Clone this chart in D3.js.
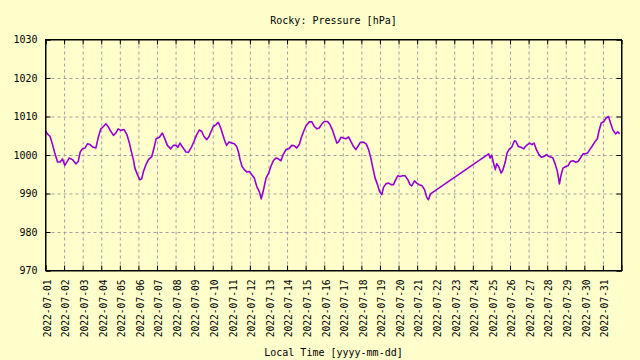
<!DOCTYPE html>
<html>
<head>
<meta charset="utf-8">
<script src="https://cdn.jsdelivr.net/npm/d3@7"></script>
<style>
  html, body { margin: 0; padding: 0; background: #ffffcc; }
  svg { display: block; }
  text { font-family: "DejaVu Sans Mono", "Liberation Mono", monospace; fill: #000; }
</style>
</head>
<body>
<script>
// ---- data ----
const titleText = "Rocky: Pressure [hPa]";
const xLabelText = "Local Time [yyyy-mm-dd]";
const startDate = "2022-07-01";
const endDate = "2022-08-01";
const yTicks = [970, 980, 990, 1000, 1010, 1020, 1030];
// time as fractional days since 2022-07-01 00:00
const dayOffsets = [
  0, 0.1, 0.25, 0.38, 0.5, 0.65, 0.79, 0.91, 1.04, 1.15, 1.27, 1.45, 1.63, 1.76, 1.87, 1.99,
  2.12, 2.26, 2.4, 2.53, 2.71, 2.83, 2.98, 3.12, 3.25, 3.37, 3.52, 3.66, 3.78, 3.91, 4.05, 4.23,
  4.38, 4.5, 4.62, 4.73, 4.81, 4.95, 5.07, 5.18, 5.27, 5.41, 5.54, 5.72, 5.84, 5.95, 6.13, 6.29,
  6.44, 6.56, 6.74, 6.88, 7.03, 7.12, 7.24, 7.38, 7.56, 7.69, 7.87, 7.99, 8.14, 8.28, 8.41, 8.53,
  8.68, 8.8, 8.91, 9.03, 9.18, 9.3, 9.43, 9.54, 9.66, 9.75, 9.88, 10.02, 10.16, 10.29, 10.4, 10.47,
  10.58, 10.7, 10.83, 10.97, 11.1, 11.24, 11.37, 11.51, 11.61, 11.72, 11.87, 12.01, 12.13, 12.26, 12.4, 12.53,
  12.67, 12.79, 12.94, 13.09, 13.26, 13.39, 13.52, 13.66, 13.76, 13.89, 14.02, 14.2, 14.34, 14.47, 14.61, 14.73,
  14.88, 15.0, 15.18, 15.31, 15.45, 15.56, 15.68, 15.77, 15.9, 16.04, 16.17, 16.31, 16.44, 16.58, 16.7, 16.81,
  16.94, 17.12, 17.26, 17.39, 17.51, 17.62, 17.74, 17.87, 17.98, 18.1, 18.19, 18.32, 18.46, 18.6, 18.73, 18.85,
  18.96, 19.09, 19.22, 19.35, 19.5, 19.62, 19.71, 19.86, 19.98, 20.11, 20.25, 20.4, 20.52, 20.61, 20.72,
  23.85, 23.93, 24.02, 24.11, 24.21, 24.28, 24.39, 24.52, 24.6, 24.73, 24.84, 24.97, 25.09, 25.24, 25.32, 25.45,
  25.59, 25.74, 25.83, 25.94, 26.06, 26.18, 26.29, 26.42, 26.56, 26.69, 26.82, 26.96, 27.1, 27.23, 27.31, 27.44,
  27.55, 27.66, 27.73, 27.85, 28.0, 28.12, 28.25, 28.39, 28.54, 28.66, 28.79, 28.93, 29.06, 29.17, 29.29, 29.41,
  29.55, 29.7, 29.78, 29.91, 30.05, 30.17, 30.3, 30.41, 30.53, 30.68, 30.8, 30.9
];
const pressure = [
  1006.3, 1005.5, 1004.8, 1002.7, 1000.5, 998.2, 998.2, 999.0, 997.3, 998.2, 999.2, 998.8, 997.7, 998.3, 1000.8, 1001.6,
  1001.8, 1002.9, 1002.7, 1002.1, 1001.8, 1004.4, 1006.8, 1007.4, 1008.1, 1007.4, 1006.1, 1005.1, 1005.7, 1006.8, 1006.4, 1006.6,
  1005.3, 1003.4, 1000.9, 998.8, 996.6, 994.9, 993.6, 993.8, 995.7, 997.5, 998.8, 999.6, 1001.8, 1004.2, 1004.6, 1005.7,
  1004.0, 1002.5, 1001.6, 1002.5, 1002.5, 1002.0, 1003.1, 1002.0, 1000.8, 1000.7, 1002.2, 1003.5, 1005.3, 1006.5, 1006.1, 1004.8,
  1004.0, 1004.8, 1006.1, 1007.4, 1007.9, 1008.5, 1007.0, 1005.3, 1003.5, 1002.5, 1003.4, 1003.1, 1002.9, 1002.2, 1000.5, 998.8,
  997.0, 996.2, 995.6, 995.7, 994.9, 994.0, 991.8, 990.5, 988.6, 990.7, 994.0, 995.3, 997.0, 998.5, 999.2, 999.0,
  998.5, 1000.1, 1001.4, 1001.6, 1002.5, 1002.4, 1001.8, 1002.7, 1004.4, 1006.1, 1007.6, 1008.6, 1008.6, 1007.4, 1006.8, 1007.0,
  1008.1, 1008.7, 1008.7, 1007.9, 1006.4, 1004.8, 1003.1, 1003.4, 1004.6, 1004.4, 1004.2, 1004.7, 1003.5, 1002.2, 1001.4, 1002.2,
  1003.3, 1003.3, 1002.9, 1001.4, 999.2, 996.6, 994.0, 992.3, 990.5, 989.7, 991.6, 992.5, 992.7, 992.3, 992.3, 993.6,
  994.6, 994.4, 994.6, 994.6, 993.6, 992.3, 992.0, 993.3, 992.7, 992.3, 992.1, 991.0, 989.0, 988.4, 989.9,
  1000.3, 999.2, 999.9, 997.9, 996.2, 997.7, 997.0, 995.3, 995.9, 997.9, 1000.5, 1001.6, 1002.0, 1003.7, 1003.5, 1002.2,
  1002.0, 1001.6, 1002.2, 1002.7, 1003.1, 1002.7, 1003.1, 1001.4, 1000.1, 999.4, 999.6, 1000.1, 999.6, 999.4, 999.2, 997.5,
  995.7, 992.5, 994.4, 996.6, 997.0, 997.2, 998.3, 998.5, 998.1, 998.3, 999.2, 1000.3, 1000.3, 1000.5, 1001.4, 1002.2,
  1003.3, 1004.2, 1006.1, 1008.3, 1008.7, 1009.6, 1010.0, 1008.3, 1006.6, 1005.5, 1006.0, 1005.5
];

// ---- chart ----
const W = 640, H = 360;
const margin = { left: 45.5, right: 18.5, top: 39.5, bottom: 89.5 };
const iw = W - margin.left - margin.right;
const ih = H - margin.top - margin.bottom;

const t0 = new Date(startDate + "T00:00:00Z");
const t1 = new Date(endDate + "T00:00:00Z");
const data = dayOffsets.map((d, i) => ({ t: new Date(t0.getTime() + d * 86400000), v: pressure[i] }));

const x = d3.scaleUtc().domain([t0, t1]).range([0, iw]);
const y = d3.scaleLinear().domain([yTicks[0], yTicks[yTicks.length - 1]]).range([ih, 0]);
const dayTicks = d3.utcDay.range(t0, t1);

const svg = d3.select("body").append("svg").attr("width", W).attr("height", H);
svg.append("rect").attr("width", W).attr("height", H).attr("fill", "#ffffcc");

const g = svg.append("g").attr("transform", `translate(${margin.left},${margin.top})`);

// grid
const gridX = g.append("g").attr("transform", `translate(0,${ih})`)
  .call(d3.axisBottom(x).tickValues(dayTicks.slice(1)).tickSize(-ih).tickFormat(""));
const gridY = g.append("g")
  .call(d3.axisLeft(y).tickValues(yTicks.slice(1, -1)).tickSize(-iw).tickFormat(""));
[gridX, gridY].forEach(a => {
  a.select(".domain").remove();
  a.selectAll("line").attr("stroke", "#a0a0a0").attr("stroke-dasharray", "3,3").attr("stroke-width", 1);
});

// line
g.append("path").datum(data)
  .attr("fill", "none").attr("stroke", "#9400d3").attr("stroke-width", 1.6)
  .attr("stroke-linejoin", "round")
  .attr("d", d3.line().x(d => x(d.t)).y(d => y(d.v)));

// axes (inward ticks)
const ax = [];
ax.push(g.append("g").call(d3.axisLeft(y).tickValues(yTicks).tickSize(-5).tickPadding(8).tickFormat(d3.format("d"))));
ax.push(g.append("g").attr("transform", `translate(${iw},0)`).call(d3.axisRight(y).tickValues(yTicks).tickSize(-5).tickFormat("")));
ax.push(g.append("g").call(d3.axisTop(x).tickValues(dayTicks).tickSize(-5).tickFormat("")));
const xAxis = g.append("g").attr("transform", `translate(0,${ih})`)
  .call(d3.axisBottom(x).tickValues(dayTicks).tickSize(-5).tickFormat(d3.utcFormat("%Y-%m-%d")));
ax.push(xAxis);
ax.forEach(a => {
  a.select(".domain").attr("stroke", "#000");
  a.selectAll("line").attr("stroke", "#000");
  a.selectAll("text").attr("font-family", '"DejaVu Sans Mono", monospace').attr("font-size", 10).attr("fill", "#000");
});
xAxis.selectAll("text")
  .attr("font-size", 9.6)
  .attr("text-anchor", "end")
  .attr("transform", "rotate(-90)")
  .attr("x", -9).attr("y", 0).attr("dy", "0.5em");

// frame
g.append("rect").attr("width", iw).attr("height", ih).attr("fill", "none").attr("stroke", "#000");

// titles
svg.append("text").attr("x", margin.left + iw / 2).attr("y", 24).attr("text-anchor", "middle")
  .attr("font-size", 10).text(titleText);
svg.append("text").attr("x", margin.left + iw / 2).attr("y", 356).attr("text-anchor", "middle")
  .attr("font-size", 10).text(xLabelText);
</script>
</body>
</html>
